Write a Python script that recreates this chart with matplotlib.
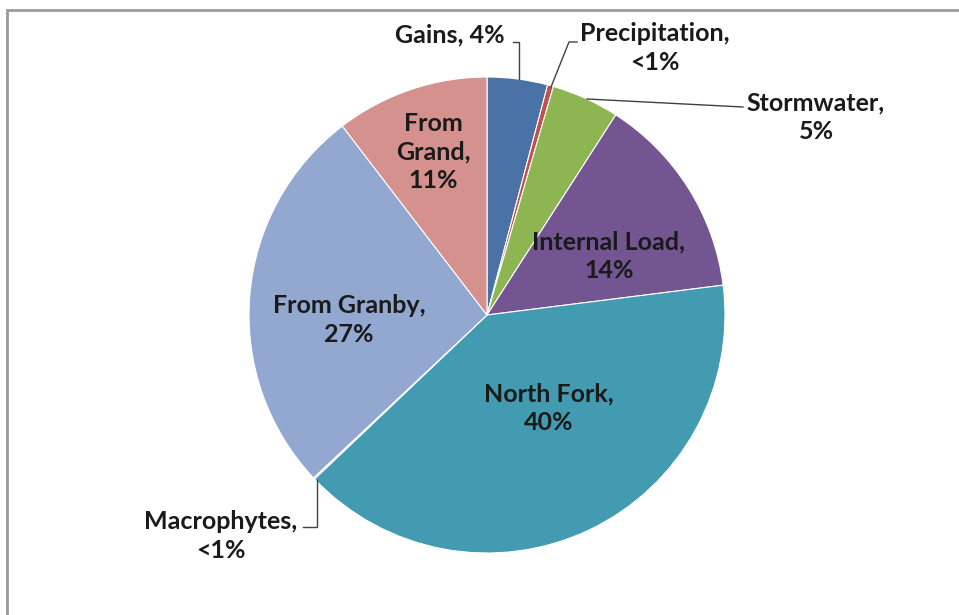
import matplotlib
matplotlib.use('Agg')
import matplotlib.pyplot as plt
from matplotlib.patches import Rectangle

sources = ["Gains", "Precipitation", "Stormwater", "Internal Load", "North Fork",
           "Macrophytes", "From Granby", "From Grand"]
shares = [4.1, 0.4, 4.6, 13.9, 39.9, 0.1, 26.6, 10.4]
labels = ["Gains, 4%", "Precipitation,\n<1%", "Stormwater,\n5%", "Internal Load,\n14%",
          "North Fork,\n40%", "Macrophytes,\n<1%", "From Granby,\n27%", "From\nGrand,\n11%"]
colors = ["#4a72a6", "#c0504d", "#8db552", "#735591", "#429bb0",
          "#f79646", "#93a8d0", "#d4918e"]

W, H = 959, 615
fig = plt.figure(figsize=(W / 100, H / 100), dpi=100)
ax = fig.add_axes([0, 0, 1, 1])

# chart frame (only left/top edges visible in the crop)
fig.patches.append(Rectangle((7 / W, -0.1), 1.1, (H - 10) / H + 0.1, transform=fig.transFigure,
                             fill=False, edgecolor="#9a9a9a", linewidth=2.0))

cx, cy, r = 487, H - 315, 238
ax.pie(shares, colors=colors, startangle=90, counterclock=False, center=(cx, cy),
       radius=r, frame=True, wedgeprops=dict(edgecolor="white", linewidth=0.8))
ax.set_xlim(0, W)
ax.set_ylim(0, H)
ax.set_aspect('equal')
ax.axis('off')

font = dict(family=["Lato", "DejaVu Sans"], fontsize=18, fontweight="bold",
            color="#1a1a1a", ha="center", va="center", linespacing=1.27)

# label anchor positions in image pixels (x, y from top)
pos = {
    "Gains": (450, 35),
    "Precipitation": (655, 48),
    "Stormwater": (816, 117),
    "Internal Load": (609, 256),
    "North Fork": (549, 408),
    "Macrophytes": (221, 536),
    "From Granby": (349, 320),
    "From Grand": (433, 152),
}
for name, lab in zip(sources, labels):
    x, y = pos[name]
    ax.text(x, H - y, lab, **font)

# leader lines
lc = dict(color="#404040", linewidth=1.0)
leaders = {
    "Gains": [(513, 42), (519, 42), (519, 79)],
    "Precipitation": [(577, 42), (569, 42), (551, 87)],
    "Stormwater": [(587, 99), (743, 107)],
    "Macrophytes": [(317, 480), (317, 527), (303, 527)],
}
for pts in leaders.values():
    ax.plot([p[0] for p in pts], [H - p[1] for p in pts], **lc)

fig.savefig("out.png", dpi=100)
